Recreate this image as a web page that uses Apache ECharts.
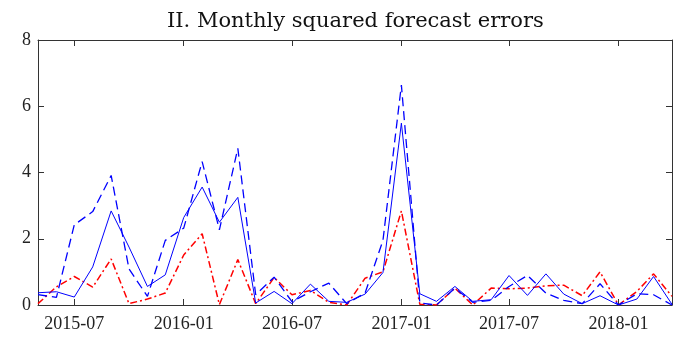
<!DOCTYPE html>
<html>
<head>
<meta charset="utf-8">
<script src="https://cdn.jsdelivr.net/npm/echarts@6/dist/echarts.min.js"></script>
<style>html,body{margin:0;padding:0;background:#fff}#c{width:674px;height:338px}</style>
</head>
<body>
<div id="c"></div>
<script>
const months = ['2015-05','2015-06','2015-07','2015-08','2015-09','2015-10','2015-11','2015-12',
'2016-01','2016-02','2016-03','2016-04','2016-05','2016-06','2016-07','2016-08','2016-09','2016-10','2016-11','2016-12',
'2017-01','2017-02','2017-03','2017-04','2017-05','2017-06','2017-07','2017-08','2017-09','2017-10','2017-11','2017-12',
'2018-01','2018-02','2018-03','2018-04'];
const solidBlue = [0.37,0.40,0.24,1.15,2.84,1.75,0.56,0.91,2.64,3.56,2.50,3.25,
0.06,0.41,0.04,0.63,0.11,0.08,0.33,0.98,5.49,0.34,0.11,0.56,0.11,0.16,0.89,0.29,0.94,0.33,0.04,0.28,0.00,0.18,0.86,0.02];
const dashedBlue = [0.31,0.23,2.42,2.82,3.91,1.09,0.26,1.95,2.32,4.33,2.27,4.73,
0.31,0.84,0.10,0.40,0.66,0.04,0.36,1.95,6.64,0.06,0.00,0.51,0.08,0.14,0.56,0.89,0.36,0.14,0.04,0.64,0.00,0.34,0.31,0.00];
const redDashDot = [0.04,0.55,0.86,0.54,1.39,0.04,0.18,0.36,1.51,2.15,0.01,1.37,
0.04,0.83,0.31,0.44,0.08,0.00,0.81,1.00,2.84,0.02,0.00,0.51,0.00,0.51,0.49,0.51,0.58,0.60,0.28,1.00,0.00,0.41,0.94,0.26];
const tickMonths = ['2015-07','2016-01','2016-07','2017-01','2017-07','2018-01'];
const yTicks = [0,2,4,6,8];

const t = s => { const p = s.split('-'); return Date.UTC(+p[0], +p[1]-1, 1); };
const fmt = v => { const d = new Date(v); return d.getUTCFullYear() + '-' + String(d.getUTCMonth()+1).padStart(2,'0'); };
const tickVals = tickMonths.map(t);
const pairs = arr => months.map((m,i)=>[t(m), arr[i]]);
const font = "'Liberation Serif', 'DejaVu Serif', serif";
const axCol = '#333';

const chart = echarts.init(document.getElementById('c'));
const xBase = {
  type:'value', min:t(months[0]), max:t(months[months.length-1]), scale:true,
  axisLine:{show:true, onZero:false, lineStyle:{color:axCol, width:1}},
  axisTick:{show:true, inside:true, length:6, customValues:tickVals, lineStyle:{color:axCol}},
  splitLine:{show:false}
};
const yBase = {
  type:'value', min:0, max:8, interval:2,
  axisLine:{show:true, onZero:false, lineStyle:{color:axCol, width:1}},
  axisTick:{show:true, inside:true, length:6, lineStyle:{color:axCol}},
  splitLine:{show:false}
};
chart.setOption({
  animation:false,
  title:{text:'II. Monthly squared forecast errors', left:162, top:6,
    textStyle:{fontFamily:"'DejaVu Serif', serif", fontSize:21, fontWeight:'normal', color:'#111'}},
  grid:{left:38, right:2, top:40, bottom:33, containLabel:false},
  xAxis:[
    Object.assign({}, xBase, {position:'bottom',
      axisLabel:{show:true, customValues:tickVals, fontFamily:font, fontSize:18, color:'#222', margin:10,
        formatter:fmt}}),
    Object.assign({}, xBase, {position:'top', axisLabel:{show:false}})
  ],
  yAxis:[
    Object.assign({}, yBase, {position:'left', axisLabel:{show:true, fontFamily:font, fontSize:18, color:'#222', margin:7}}),
    Object.assign({}, yBase, {position:'right', axisLabel:{show:false}})
  ],
  series:[
    {type:'line', data:pairs(dashedBlue), showSymbol:false, symbol:'none', color:'#0000ff',
      lineStyle:{color:'#0000ff', width:1.3, type:[9,5]}, z:3},
    {type:'line', data:pairs(solidBlue), showSymbol:false, symbol:'none', color:'#0000ff',
      lineStyle:{color:'#0000ff', width:1, type:'solid'}, z:4},
    {type:'line', data:pairs(redDashDot), showSymbol:false, symbol:'none', color:'#ff0000',
      lineStyle:{color:'#ff0000', width:1.5, type:[7,3,2,3]}, z:2}
  ]
});
</script>
</body>
</html>
